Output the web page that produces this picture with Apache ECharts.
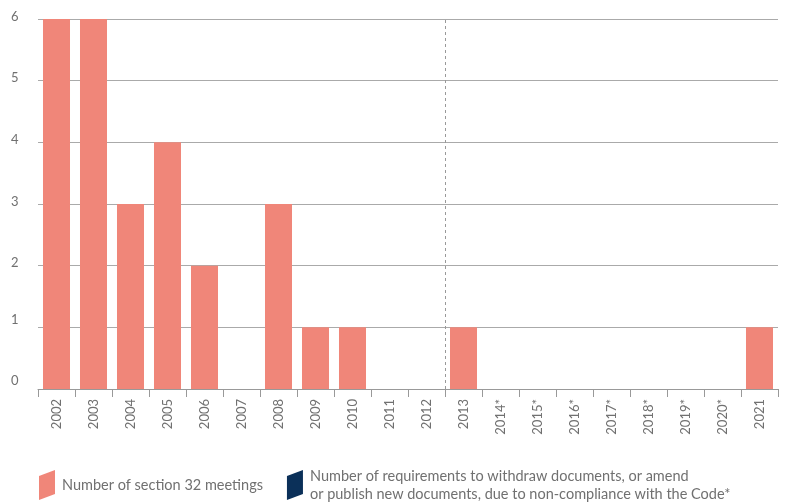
<!DOCTYPE html>
<html>
<head>
<meta charset="utf-8">
<script src="https://cdn.jsdelivr.net/npm/echarts@6/dist/echarts.min.js"></script>
<style>
  html, body { margin: 0; padding: 0; background: #fff; }
  #chart { width: 789px; height: 504px; }
</style>
</head>
<body>
<div id="chart"></div>
<script>
const years = ["2002", "2003", "2004", "2005", "2006", "2007", "2008", "2009", "2010", "2011",
  "2012", "2013", "2014*", "2015*", "2016*", "2017*", "2018*", "2019*", "2020*", "2021"];
const meetings = [6, 6, 3, 4, 2, 0, 3, 1, 1, 0, 0, 1, 0, 0, 0, 0, 0, 0, 0, 1];
const requirements = [0, 0, 0, 0, 0, 0, 0, 0, 0, 0, 0, 0, 0, 0, 0, 0, 0, 0, 0, 0];
const seriesNames = [
  "Number of section 32 meetings",
  "Number of requirements to withdraw documents, or amend\nor publish new documents, due to non-compliance with the Code*"
];
const dividerAt = 11; // dashed line between 2012 and 2013

const chart = echarts.init(document.getElementById("chart"));
const fontFamily = "Lato, 'Noto Sans', sans-serif";
const legendIcon = "path://M0,6 L16,0 L16,24 L0,30 Z";

chart.setOption({
  animation: false,
  textStyle: { fontFamily: fontFamily },
  grid: { left: 38, right: 11, top: 19, bottom: 115 },
  legend: {
    left: 34,
    top: 462,
    itemWidth: 16,
    itemHeight: 30,
    itemGap: 24,
    icon: legendIcon,
    data: seriesNames,
    textStyle: { color: "#707070", fontSize: 14.5, lineHeight: 18, fontFamily: fontFamily, padding: [0, 0, 0, 2] }
  },
  xAxis: [
    {
      type: "category",
      data: years,
      axisLine: { lineStyle: { color: "#999", width: 1 } },
      axisTick: { show: true, length: 8, lineStyle: { color: "#999" } },
      axisLabel: { rotate: 90, color: "#707070", fontSize: 13, margin: 10, interval: 0 }
    },
    {
      type: "value",
      min: 0,
      max: years.length,
      show: false
    }
  ],
  yAxis: {
    type: "value",
    min: 0,
    max: 6,
    interval: 1,
    axisLine: { show: false },
    axisTick: { show: false },
    axisLabel: {
      color: "#707070",
      fontSize: 13,
      align: "left",
      margin: 27,
      formatter: (v) => (v <= 1 ? "{low|" + v + "}" : "{high|" + v + "}"),
      rich: {
        low: { color: "#707070", fontSize: 13, padding: [0, 0, 16, 0] },
        high: { color: "#707070", fontSize: 13, padding: [0, 0, 5, 0] }
      }
    },
    splitLine: { lineStyle: { color: "#aaa", width: 1 } }
  },
  series: [
    {
      name: seriesNames[0],
      type: "bar",
      stack: "total",
      data: meetings,
      barCategoryGap: "27%",
      itemStyle: { color: "#f08679" }
    },
    {
      name: seriesNames[1],
      type: "bar",
      stack: "total",
      data: requirements,
      itemStyle: { color: "#0b3059" }
    },
    {
      type: "line",
      xAxisIndex: 1,
      data: [],
      markLine: {
        silent: true,
        symbol: "none",
        label: { show: false },
        lineStyle: { color: "#999", type: [3, 3], width: 1 },
        data: [{ xAxis: dividerAt }]
      }
    }
  ]
});
</script>
</body>
</html>
